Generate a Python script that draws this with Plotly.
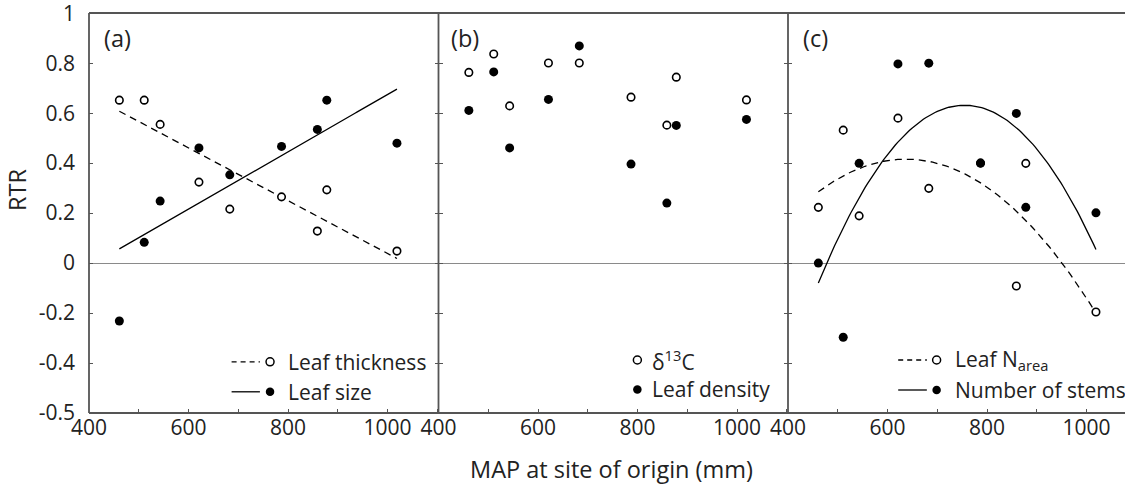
import numpy as np
import plotly.graph_objects as go

# ---- data ----
map_mm = [461, 511, 543, 621, 683, 787, 859, 878, 1019]

leaf_thickness = [0.652, 0.652, 0.555, 0.324, 0.216, 0.265, 0.128, 0.293, 0.048]
leaf_size = [-0.232, 0.083, 0.248, 0.461, 0.353, 0.467, 0.535, 0.652, 0.480]

d13c = [0.763, 0.837, 0.629, 0.801, 0.801, 0.664, 0.552, 0.744, 0.653]
leaf_density = [0.611, 0.765, 0.461, 0.655, 0.869, 0.396, 0.240, 0.551, 0.575]

leaf_narea = [0.223, 0.532, 0.189, 0.580, 0.299, 0.400, -0.092, 0.399, -0.196]
n_stems = [0.0, -0.297, 0.399, 0.797, 0.800, 0.400, 0.599, 0.223, 0.201]

y_tickvals = [1, 0.8, 0.6, 0.4, 0.2, 0, -0.2, -0.4, -0.6]
y_ticktext = ["1", "0.8", "0.6", "0.4", "0.2", "0", "-0.2", "-0.4", "-0.5"]

FONT = "Open Sans"
FS = 21
FS_TITLE = 23.5
FRAME = "#555555"
TXT = "#222222"

fig = go.Figure()


def fit_curve(x, y, deg):
    x = np.asarray(x, float)
    c = np.polyfit(x, np.asarray(y, float), deg)
    xs = np.linspace(x.min(), x.max(), 120)
    return xs, np.polyval(c, xs)


def open_pts(x, y, xa, ya):
    fig.add_trace(go.Scatter(x=x, y=y, mode="markers", xaxis=xa, yaxis=ya,
                             marker=dict(symbol="circle", size=7.5, color="white",
                                         line=dict(color="black", width=1.6)),
                             showlegend=False, hoverinfo="skip"))


def filled_pts(x, y, xa, ya):
    fig.add_trace(go.Scatter(x=x, y=y, mode="markers", xaxis=xa, yaxis=ya,
                             marker=dict(symbol="circle", size=9, color="black",
                                         line=dict(width=0)),
                             showlegend=False, hoverinfo="skip"))


def fit_line(x, y, deg, dash, xa, ya):
    xs, ys = fit_curve(x, y, deg)
    fig.add_trace(go.Scatter(x=xs, y=ys, mode="lines", xaxis=xa, yaxis=ya,
                             line=dict(color="black", width=1.3, dash=dash),
                             showlegend=False, hoverinfo="skip"))


DASH = "7px,5px"

# panel (a)
fit_line(map_mm, leaf_thickness, 1, DASH, "x", "y")
fit_line(map_mm, leaf_size, 1, "solid", "x", "y")
open_pts(map_mm, leaf_thickness, "x", "y")
filled_pts(map_mm, leaf_size, "x", "y")

# panel (b)
open_pts(map_mm, d13c, "x2", "y2")
filled_pts(map_mm, leaf_density, "x2", "y2")

# panel (c)
fit_line(map_mm, leaf_narea, 2, DASH, "x3", "y3")
fit_line(map_mm, n_stems, 2, "solid", "x3", "y3")
open_pts(map_mm, leaf_narea, "x3", "y3")
filled_pts(map_mm, n_stems, "x3", "y3")

# ---- layout ----
W_PLOT = 1125 - 89
d1 = 349.5 / W_PLOT
d2 = 699.0 / W_PLOT
PXU = 0.4975
ranges = [[400, 400 + 349.5 / PXU], [400, 400 + 349.5 / PXU], [400, 400 + (W_PLOT - 699.0) / PXU]]
domains = [[0, d1], [d1, d2], [d2, 1]]

tickfont = dict(family=FONT, size=FS, color=TXT)
layout = dict(
    width=1125, height=488,
    margin=dict(l=89, r=0, t=13, b=75, pad=0),
    paper_bgcolor="white", plot_bgcolor="white",
    font=dict(family=FONT, size=FS, color=TXT),
    showlegend=False,
)

for i in range(3):
    sx = "" if i == 0 else str(i + 1)
    layout["xaxis" + sx] = dict(
        domain=domains[i], range=ranges[i], anchor="y" + sx,
        tickmode="linear", tick0=400, dtick=200,
        ticks="inside", ticklen=4, tickwidth=1, tickcolor=FRAME,
        minor=dict(dtick=100, tick0=400, ticks="inside", ticklen=4, tickwidth=1,
                   tickcolor=FRAME, showgrid=False),
        showline=False, showgrid=False, zeroline=False, tickfont=tickfont,
        ticklabeloverflow="allow",
    )
    layout["yaxis" + sx] = dict(
        domain=[0, 1], range=[-0.6, 1.0008], anchor="x" + sx,
        tickmode="array", tickvals=y_tickvals, ticktext=y_ticktext,
        showticklabels=(i == 0), ticklabelstandoff=13, ticklabeloverflow="allow",
        ticks="inside", ticklen=4, tickwidth=1, tickcolor=FRAME,
        showline=False, mirror=("ticks" if i < 2 else False),
        showgrid=False, zeroline=True, zerolinecolor="#8a8a8a", zerolinewidth=1,
        tickfont=tickfont,
    )

fig.update_layout(**layout)

annotations = []
shapes = []

# panel frame
FW = 1.8
shapes.append(dict(type="line", xref="paper", yref="paper", x0=0, x1=1, y0=1, y1=1,
                   line=dict(color=FRAME, width=FW)))
shapes.append(dict(type="line", xref="paper", yref="paper", x0=0, x1=1, y0=0, y1=0,
                   line=dict(color=FRAME, width=FW)))
for xv in (0, d1, d2):
    shapes.append(dict(type="line", xref="paper", yref="paper", x0=xv, x1=xv, y0=0, y1=1,
                       line=dict(color=FRAME, width=FW)))


def label(text, xref, x, y, xanchor="left", size=FS):
    annotations.append(dict(text=text, xref=xref, yref="paper", x=x, y=y,
                            xanchor=xanchor, yanchor="middle", showarrow=False,
                            font=dict(family=FONT, size=size, color=TXT)))


# panel labels
label("(a)", "x domain", 0.038, 0.9375, size=FS_TITLE)
label("(b)", "x2 domain", 0.031, 0.9375, size=FS_TITLE)
label("(c)", "x3 domain", 0.039, 0.9375, size=FS_TITLE)


def leg_line(xref, x0, x1, y, dash):
    shapes.append(dict(type="line", xref=xref, yref="paper", x0=x0, x1=x1, y0=y, y1=y,
                       line=dict(color="black", width=1.3, dash=dash)))


def leg_marker(xref, x, y, filled):
    d = 8.5 if filled else 8
    shapes.append(dict(type="circle", xref=xref, yref="paper",
                       xsizemode="pixel", ysizemode="pixel", xanchor=x, yanchor=y,
                       x0=-d / 2, x1=d / 2, y0=-d / 2, y1=d / 2,
                       fillcolor="black" if filled else "white",
                       line=dict(color="black", width=0 if filled else 1.5)))


# legend (a)
r1, r2 = 0.128, 0.053
leg_line("x domain", 0.408, 0.489, r1, "5px,4px")
leg_marker("x domain", 0.518, r1, False)
label("Leaf thickness", "x domain", 0.565, r1)
leg_line("x domain", 0.408, 0.489, r2, "solid")
leg_marker("x domain", 0.518, r2, True)
label("Leaf size", "x domain", 0.565, r2)

# legend (b)
leg_marker("x2 domain", 0.569, 0.1325, False)
label("δ<sup>13</sup>C", "x2 domain", 0.605, 0.1325)
leg_marker("x2 domain", 0.569, 0.059, True)
label("Leaf density", "x2 domain", 0.605, 0.059)

# legend (c)
leg_line("x3 domain", 0.327, 0.412, 0.1325, "5px,4px")
leg_marker("x3 domain", 0.441, 0.1325, False)
label("Leaf N<sub>area</sub>", "x3 domain", 0.490, 0.1325)
leg_line("x3 domain", 0.327, 0.412, 0.0575, "solid")
leg_marker("x3 domain", 0.441, 0.0575, True)
label("Number of stems", "x3 domain", 0.490, 0.0575)

# axis titles
annotations.append(dict(text="RTR", xref="paper", yref="paper",
                        x=(17 - 89) / W_PLOT, y=(413 - 190) / 400, textangle=-90,
                        xanchor="center", yanchor="middle", showarrow=False,
                        font=dict(family=FONT, size=FS_TITLE, color=TXT)))
annotations.append(dict(text="MAP at site of origin (mm)", xref="paper", yref="paper",
                        x=(611.7 - 89) / W_PLOT, y=(413 - 469) / 400,
                        xanchor="center", yanchor="middle", showarrow=False,
                        font=dict(family=FONT, size=FS_TITLE, color=TXT)))

fig.update_layout(annotations=annotations, shapes=shapes)
fig.write_html("out.html")
